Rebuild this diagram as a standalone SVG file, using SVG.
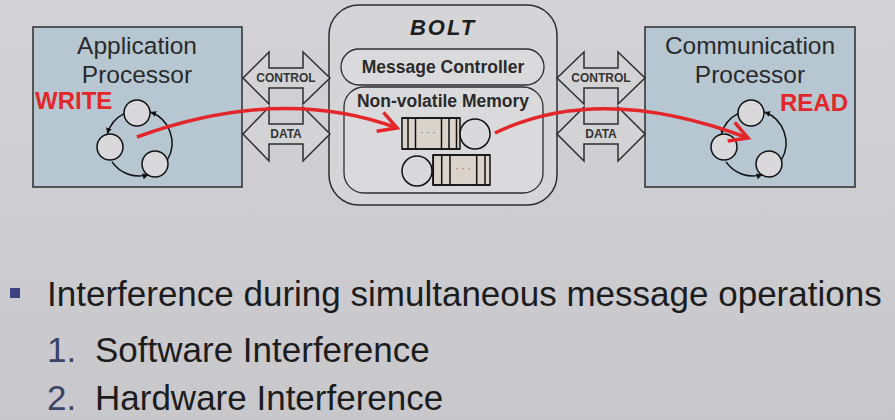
<svg xmlns="http://www.w3.org/2000/svg" width="895" height="420" viewBox="0 0 895 420">
<defs>
<linearGradient id="bg" x1="0" y1="0" x2="0" y2="1">
<stop offset="0" stop-color="#d3d3d7"/>
<stop offset="1" stop-color="#c8c7cc"/>
</linearGradient>
<marker id="cyc" markerWidth="8" markerHeight="8" refX="6" refY="3" orient="auto" markerUnits="userSpaceOnUse">
<path d="M0,0 L6,3 L0,6 Z" fill="#111"/>
</marker>
<marker id="red" markerWidth="30" markerHeight="30" refX="20" refY="12" orient="auto" markerUnits="userSpaceOnUse">
<path d="M2,2 L20,12 L2,22" fill="none" stroke="#e3262a" stroke-width="3.5" stroke-linejoin="miter"/>
</marker>
<g id="cycle">
<circle cx="137" cy="113" r="13" class="st"/>
<circle cx="110" cy="147" r="13" class="st"/>
<circle cx="155" cy="164" r="13" class="st"/>
<path d="M124.0,113.6 A33,33 0 0 0 107.3,133.9" class="arc"/>
<path d="M112,161.9 A33,33 0 0 0 148.6,174.6" class="arc"/>
<path d="M167.6,159.5 A33,33 0 0 0 150.3,112.0" class="arc"/>
</g>
</defs>
<style>
.box{fill:#b6c7d2;stroke:#2e2e2e;stroke-width:1.5}
.st{fill:#d9d9db;stroke:#111;stroke-width:1.5}
.arc{fill:none;stroke:#111;stroke-width:1.5;marker-end:url(#cyc)}
.title{font-family:"Liberation Sans",Arial,sans-serif;font-size:24.5px;fill:#2a2a2a;text-anchor:middle}
.rw{font-family:"Liberation Sans",Arial,sans-serif;font-size:24px;font-weight:bold;fill:#e3262a}
.bus{fill:#d3d3d6;stroke:#2e2e2e;stroke-width:1.5;stroke-linejoin:miter}
.bl{font-family:"Liberation Sans",Arial,sans-serif;font-size:12px;font-weight:bold;fill:#333;text-anchor:middle}
.inner{fill:#dadadd;stroke:#2e2e2e;stroke-width:1.3}
.ib{font-family:"Liberation Sans",Arial,sans-serif;font-size:17.5px;font-weight:bold;fill:#2a2a2a;text-anchor:middle}
.q{fill:#d9d3cc;stroke:#111;stroke-width:1.5}
.ql{stroke:#111;stroke-width:1.5;fill:none}
.dots{font-family:"Liberation Sans",Arial,sans-serif;font-size:10px;fill:#666;text-anchor:middle}
.red{fill:none;stroke:#e3262a;stroke-width:3.5;marker-end:url(#red)}
.bt{font-family:"Liberation Sans",Arial,sans-serif;font-size:35px;fill:#1c1c1c}
.num{font-family:"Liberation Sans",Arial,sans-serif;font-size:35px;fill:#3b4366}
</style>
<rect width="895" height="420" fill="url(#bg)"/>

<g id="app">
<rect x="33" y="27" width="209" height="160" class="box"/>
<text x="137" y="54" class="title">Application</text>
<text x="137" y="83" class="title">Processor</text>
<text x="35" y="109" class="rw">WRITE</text>
<use href="#cycle"/>
</g>

<g id="comm">
<rect x="645" y="27" width="210" height="160" class="box"/>
<text x="750" y="54" class="title">Communication</text>
<text x="750" y="83" class="title">Processor</text>
<text x="780" y="111" class="rw">READ</text>
<use href="#cycle" transform="translate(614,0)"/>
</g>

<g id="bolt">
<rect x="329" y="5" width="228" height="200" rx="30" ry="30" fill="#d5d5d8" stroke="#2e2e2e" stroke-width="1.5"/>
<text x="443" y="35" font-family="'Liberation Sans',Arial,sans-serif" font-size="22" font-weight="bold" font-style="italic" letter-spacing="2" fill="#1e1e1e" text-anchor="middle">BOLT</text>
</g>

<g id="controller">
<rect x="341" y="49" width="203" height="36" rx="18" ry="18" class="inner"/>
<text x="443" y="73" class="ib">Message Controller</text>
</g>

<g id="memory">
<rect x="344" y="87" width="199" height="106" rx="20" ry="20" class="inner"/>
<text x="443" y="107" class="ib">Non-volatile Memory</text>
<rect x="402" y="118" width="58" height="31" class="q" stroke="none"/>
<path d="M402,118 H460 M402,149 H460 M408,118 V149 M415.5,118 V149 M441.5,118 V149 M449,118 V149 M456.5,118 V149" class="ql"/>
<circle cx="475" cy="134" r="15" class="st"/>
<text x="428" y="136" class="dots">· · ·</text>
<rect x="433" y="155" width="57" height="30" class="q" stroke="none"/>
<path d="M433,155 H490 M433,185 H490 M433.3,155 V185 M441.7,155 V185 M450,155 V185 M476.7,155 V185 M485,155 V185" class="ql"/>
<circle cx="417" cy="171" r="15" class="st"/>
<text x="463" y="172" class="dots">· · ·</text>
</g>

<g id="connectors">
<path d="M243,78 L269,52 L269,68 L303,68 L303,52 L330,78 L303,104 L303,88 L269,88 L269,104 Z" class="bus"/>
<path d="M243,134 L269,107 L269,124 L303,124 L303,107 L330,134 L303,161 L303,144 L269,144 L269,161 Z" class="bus"/>
<text x="286" y="82" class="bl">CONTROL</text>
<text x="286" y="138" class="bl">DATA</text>
<path d="M557,78 L584,52 L584,68 L618,68 L618,52 L645,78 L618,104 L618,88 L584,88 L584,104 Z" class="bus"/>
<path d="M557,134 L584,107 L584,124 L618,124 L618,107 L645,134 L618,161 L618,144 L584,144 L584,161 Z" class="bus"/>
<text x="601" y="82" class="bl">CONTROL</text>
<text x="601" y="138" class="bl">DATA</text>
<path d="M137,137 Q280,85 397,128" class="red"/>
<path d="M495,133 Q600,82 748,138" class="red"/>
</g>

<g id="bullets">
<rect x="10" y="288" width="10" height="10" fill="#3c4280"/>
<text x="47" y="306" class="bt">Interference during simultaneous message operations</text>
<text x="47" y="362" class="num">1.</text>
<text x="95" y="362" class="bt">Software Interference</text>
<text x="47" y="410" class="num">2.</text>
<text x="95" y="410" class="bt">Hardware Interference</text>
</g>
</svg>
